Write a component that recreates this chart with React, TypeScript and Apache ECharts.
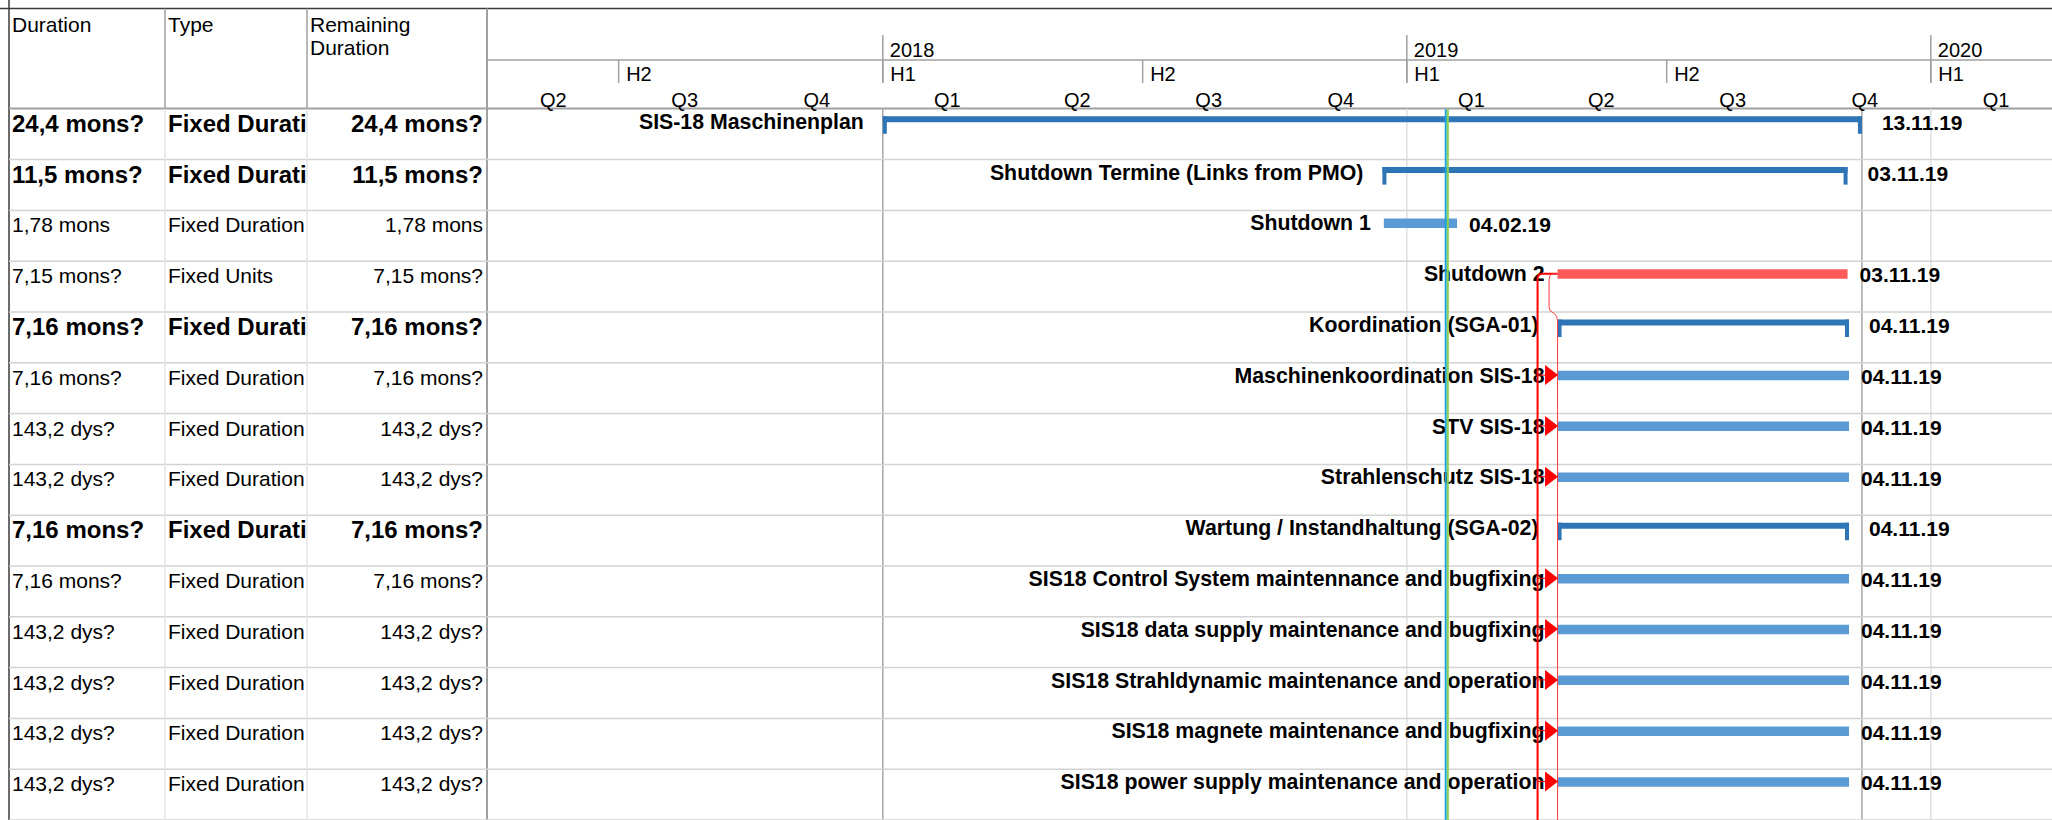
import React, { useEffect, useRef } from "react";
import * as echarts from "echarts";

// ---------- data ----------
const tableHeaders = ["Duration", "Type", "Remaining\nDuration"];

const rowDurations = [
  "24,4 mons?", "11,5 mons?", "1,78 mons", "7,15 mons?", "7,16 mons?", "7,16 mons?", "143,2 dys?",
  "143,2 dys?", "7,16 mons?", "7,16 mons?", "143,2 dys?", "143,2 dys?", "143,2 dys?", "143,2 dys?",
];
const rowTypes = [
  "Fixed Duration", "Fixed Duration", "Fixed Duration", "Fixed Units", "Fixed Duration", "Fixed Duration", "Fixed Duration",
  "Fixed Duration", "Fixed Duration", "Fixed Duration", "Fixed Duration", "Fixed Duration", "Fixed Duration", "Fixed Duration",
];
const rowRemaining = [
  "24,4 mons?", "11,5 mons?", "1,78 mons", "7,15 mons?", "7,16 mons?", "7,16 mons?", "143,2 dys?",
  "143,2 dys?", "7,16 mons?", "7,16 mons?", "143,2 dys?", "143,2 dys?", "143,2 dys?", "143,2 dys?",
];
const rowBold = [true, true, false, false, true, false, false, false, true, false, false, false, false, false];

const taskNames = [
  "SIS-18 Maschinenplan",
  "Shutdown Termine (Links from PMO)",
  "Shutdown 1",
  "Shutdown 2",
  "Koordination (SGA-01)",
  "Maschinenkoordination SIS-18",
  "STV SIS-18",
  "Strahlenschutz SIS-18",
  "Wartung / Instandhaltung (SGA-02)",
  "SIS18 Control System maintennance and bugfixing",
  "SIS18 data supply maintenance and bugfixing",
  "SIS18 Strahldynamic maintenance and operation",
  "SIS18 magnete maintenance and bugfixing",
  "SIS18 power supply maintenance and operation",
];
const taskKinds = [
  "summary", "summary", "task", "critical", "summary", "task", "task",
  "task", "summary", "task", "task", "task", "task", "task",
];
const taskStarts = [
  "2018-01-01", "2018-12-15", "2018-12-16", "2019-04-16", "2019-04-16", "2019-04-16", "2019-04-16",
  "2019-04-16", "2019-04-16", "2019-04-16", "2019-04-16", "2019-04-16", "2019-04-16", "2019-04-16",
];
const taskFinishes = [
  "2019-11-13", "2019-11-03", "2019-02-04", "2019-11-03", "2019-11-04", "2019-11-04", "2019-11-04",
  "2019-11-04", "2019-11-04", "2019-11-04", "2019-11-04", "2019-11-04", "2019-11-04", "2019-11-04",
];

const linkSourceRow = 3;
const linkTargetRows = [5, 6, 7, 9, 10, 11, 12, 13];

const yearStarts = ["2018-01-01", "2019-01-01", "2020-01-01"];
const yearLabels = ["2018", "2019", "2020"];
const halfStarts = ["2017-07-01", "2018-01-01", "2018-07-01", "2019-01-01", "2019-07-01", "2020-01-01"];
const halfLabels = ["H2", "H1", "H2", "H1", "H2", "H1"];
const quarterStarts = [
  "2017-04-01", "2017-07-01", "2017-10-01", "2018-01-01", "2018-04-01", "2018-07-01",
  "2018-10-01", "2019-01-01", "2019-04-01", "2019-07-01", "2019-10-01", "2020-01-01",
];
const quarterEnds = [
  "2017-07-01", "2017-10-01", "2018-01-01", "2018-04-01", "2018-07-01", "2018-10-01",
  "2019-01-01", "2019-04-01", "2019-07-01", "2019-10-01", "2020-01-01", "2020-04-01",
];
const quarterLabels = ["Q2", "Q3", "Q4", "Q1", "Q2", "Q3", "Q4", "Q1", "Q2", "Q3", "Q4", "Q1"];

const projectStart = "2018-01-01";
const projectFinish = "2019-11-13";
const yearGridLines = ["2019-01-01", "2020-01-01"];
const currentDate = "2019-01-29";

// ---------- helpers ----------
const DAY = 86400000;
const ts = (s: string) => {
  const [y, m, d] = s.split("-").map(Number);
  return Date.UTC(y, m - 1, d);
};
const fmtDate = (s: string) => {
  const [y, m, d] = s.split("-");
  return `${d}.${m}.${y.slice(2)}`;
};
const AXIS_MIN = ts("2017-04-01");
const AXIS_MAX = AXIS_MIN + 1089.4 * DAY;
const FONT = '"Liberation Sans", Arial, Helvetica, sans-serif';
const BOTTOM = 830;
const LABEL_SIZE = 21.3;

const txt = (x: number, y: number, text: string, opts: any = {}) => ({
  type: "text",
  x,
  y,
  silent: true,
  style: {
    text,
    fill: "#000",
    fontFamily: FONT,
    fontSize: opts.fontSize ?? 21,
    fontWeight: opts.bold ? "bold" : "normal",
    textAlign: opts.align ?? "left",
    textVerticalAlign: "middle",
    ...(opts.extra || {}),
  },
});
const ln = (x1: number, y1: number, x2: number, y2: number, stroke: string, lineWidth: number) => ({
  type: "line",
  silent: true,
  shape: { x1, y1, x2, y2 },
  style: { stroke, lineWidth },
});

export default function App() {
  const ref = useRef<HTMLDivElement>(null);

  useEffect(() => {
    const chart = echarts.init(ref.current!, null, { renderer: "svg" });

    const rowData = taskNames.map((_, i) => [AXIS_MIN, i]);
    const barData = taskNames.map((_, i) => [ts(taskStarts[i]), ts(taskFinishes[i]) + DAY, i]);
    const headerData: any[] = [];
    yearStarts.forEach((s, i) => headerData.push([ts(s), 0, i, 0]));
    halfStarts.forEach((s, i) => headerData.push([ts(s), 1, i, 0]));
    quarterStarts.forEach((s, i) => headerData.push([ts(s), 2, i, ts(quarterEnds[i])]));
    const vlineData: any[] = [
      [ts(projectStart), 0],
      [ts(projectFinish) + DAY, 0],
      ...yearGridLines.map((s) => [ts(s), 1]),
    ];

    const option: any = {
      animation: false,
      backgroundColor: "#fff",
      grid: { left: 488, top: 108.8, width: 1564, height: 14 * 51.2, containLabel: false },
      xAxis: { type: "time", min: AXIS_MIN, max: AXIS_MAX, show: false },
      yAxis: { type: "category", data: taskNames, inverse: true, show: false },
      graphic: [
        ln(0, 8.5, 2052, 8.5, "#3a3a3a", 1.5),
        ln(9, 0, 9, 820, "#3a3a3a", 1.5),
        ln(9, 108.5, 2052, 108.5, "#a0a0a0", 2),
        ln(487, 60, 2052, 60, "#a0a0a0", 1.5),
        ln(165, 8.5, 165, 108.5, "#a0a0a0", 1.5),
        ln(307, 8.5, 307, 108.5, "#a0a0a0", 1.5),
        ln(487, 8.5, 487, 820, "#a0a0a0", 2),
        txt(12, 24, tableHeaders[0]),
        txt(168, 24, tableHeaders[1]),
        {
          type: "text",
          x: 310,
          y: 12.5,
          silent: true,
          style: {
            text: tableHeaders[2],
            fill: "#000",
            fontFamily: FONT,
            fontSize: 21,
            lineHeight: 23.5,
            textAlign: "left",
            textVerticalAlign: "top",
          },
        },
      ],
      series: [
        {
          type: "custom",
          z: 1,
          clip: false,
          silent: true,
          data: vlineData,
          encode: { x: 0 },
          renderItem: (params: any, api: any) => {
            const x = api.coord([api.value(0), 0])[0];
            const kind = api.value(1);
            const top = params.coordSys.y;
            return ln(x, top, x, BOTTOM, kind === 0 ? "#a6a6a6" : "#e0e0e0", 1.5);
          },
        },
        {
          type: "custom",
          z: 2,
          clip: false,
          silent: true,
          data: rowData,
          encode: { x: 0, y: 1 },
          renderItem: (params: any, api: any) => {
            const i = params.dataIndex;
            const yc = api.coord([AXIS_MIN, i])[1];
            const bh = api.size([0, 1])[1];
            const top = yc - bh / 2;
            const bottom = yc + bh / 2;
            const bold = rowBold[i];
            const fs = bold ? 24 : 21;
            const ty = top + 14.5;
            return {
              type: "group",
              children: [
                ln(9, bottom, 2052, bottom, "#d3d3d3", 1.5),
                ln(165, top, 165, bottom, "#e3e3e3", 1.5),
                ln(307, top, 307, bottom, "#e3e3e3", 1.5),
                txt(12, ty, rowDurations[i], { fontSize: fs, bold }),
                txt(168, ty, rowTypes[i], {
                  fontSize: fs,
                  bold,
                  extra: { width: 147, overflow: "truncate", ellipsis: "" },
                }),
                txt(483, ty, rowRemaining[i], { fontSize: fs, bold, align: "right" }),
              ],
            };
          },
        },
        {
          type: "custom",
          z: 3,
          clip: false,
          silent: true,
          data: barData,
          encode: { x: [0, 1], y: 2 },
          renderItem: (params: any, api: any) => {
            const i = params.dataIndex;
            const p0 = api.coord([api.value(0), i]);
            const p1 = api.coord([api.value(1), i]);
            const bh = api.size([0, 1])[1];
            const top = p0[1] - bh / 2;
            const x0 = p0[0];
            const x1 = p1[0];
            const kind = taskKinds[i];
            const children: any[] = [];
            if (kind === "summary") {
              const c = "#2e75b6";
              children.push({ type: "rect", shape: { x: x0, y: top + 7.5, width: x1 - x0, height: 6 }, style: { fill: c } });
              children.push({ type: "rect", shape: { x: x0, y: top + 7.5, width: 4, height: 17.5 }, style: { fill: c } });
              children.push({ type: "rect", shape: { x: x1 - 4, y: top + 7.5, width: 4, height: 17.5 }, style: { fill: c } });
              children.push(txt(x0 - 19, top + 13, taskNames[i], { bold: true, align: "right", fontSize: LABEL_SIZE }));
              children.push(txt(x1 + 20, top + 13.7, fmtDate(taskFinishes[i]), { bold: true }));
            } else {
              const c = kind === "critical" ? "#ff5b5b" : "#5b9bd5";
              children.push({ type: "rect", shape: { x: x0, y: top + 8, width: x1 - x0, height: 9.5 }, style: { fill: c } });
              children.push(txt(x0 - 13, top + 13, taskNames[i], { bold: true, align: "right", fontSize: LABEL_SIZE }));
              children.push(txt(x1 + 12, top + 13.7, fmtDate(taskFinishes[i]), { bold: true }));
            }
            return { type: "group", children };
          },
        },
        {
          type: "custom",
          z: 4,
          clip: false,
          silent: true,
          data: [[ts(taskStarts[linkSourceRow]), linkSourceRow]],
          encode: { x: 0, y: 1 },
          renderItem: (params: any, api: any) => {
            const p = api.coord([api.value(0), linkSourceRow]);
            const bh = api.size([0, 1])[1];
            const sx = p[0];
            const yc = p[1] - bh / 2 + 12.5;
            const red = "#ff0000";
            const children: any[] = [
              {
                type: "polyline",
                shape: {
                  points: [
                    [sx, yc], [sx - 16, yc], [sx - 18.5, yc + 1], [sx - 19.7, yc + 3], [sx - 20, yc + 5], [sx - 20, BOTTOM],
                  ],
                },
                style: { stroke: red, lineWidth: 2, fill: null },
              },
              {
                type: "polyline",
                shape: {
                  points: [
                    [sx, yc], [sx - 5, yc], [sx - 7.5, yc + 2], [sx - 8.5, yc + 6], [sx - 8.5, yc + 33],
                    [sx - 7.5, yc + 37], [sx - 3, yc + 40], [sx - 0.8, yc + 43], [sx, yc + 47], [sx, BOTTOM],
                  ],
                },
                style: { stroke: "#ff3b3b", lineWidth: 1, fill: null },
              },
            ];
            linkTargetRows.forEach((r) => {
              const q = api.coord([api.value(0), r]);
              const ty = q[1] - bh / 2 + 12.3;
              children.push(ln(sx - 20, ty, sx - 12, ty, red, 1));
              children.push({
                type: "polygon",
                shape: { points: [[sx - 12.5, ty - 10], [sx + 0.5, ty], [sx - 12.5, ty + 10]] },
                style: { fill: red },
              });
            });
            return { type: "group", children };
          },
        },
        {
          type: "custom",
          z: 5,
          clip: false,
          silent: true,
          data: [[ts(currentDate), 0]],
          encode: { x: 0 },
          renderItem: (params: any, api: any) => {
            const x = api.coord([api.value(0), 0])[0];
            const top = params.coordSys.y + 0.5;
            return {
              type: "group",
              children: [
                ln(x - 1.3, top, x - 1.3, BOTTOM, "#1ca3de", 2),
                ln(x + 0.8, top, x + 0.8, BOTTOM, "#8dd14f", 2),
              ],
            };
          },
        },
        {
          type: "custom",
          z: 6,
          clip: false,
          silent: true,
          data: headerData,
          encode: { x: 0 },
          renderItem: (params: any, api: any) => {
            const x = api.coord([api.value(0), 0])[0];
            const level = api.value(1);
            const idx = api.value(2);
            if (level === 0) {
              return {
                type: "group",
                children: [ln(x, 35, x, 83, "#a0a0a0", 1.5), txt(x + 7, 50, yearLabels[idx], { fontSize: 20 })],
              };
            }
            if (level === 1) {
              return {
                type: "group",
                children: [ln(x, 60, x, 83, "#a0a0a0", 1.5), txt(x + 7.5, 74, halfLabels[idx], { fontSize: 20 })],
              };
            }
            const xe = api.coord([api.value(3), 0])[0];
            return txt((x + xe) / 2, 99.5, quarterLabels[idx], { fontSize: 20, align: "center" });
          },
        },
      ],
    };

    chart.setOption(option);
    return () => chart.dispose();
  }, []);

  return (
    <div
      ref={ref}
      style={{ position: "fixed", left: 0, top: 0, width: 2052, height: 820, background: "#fff" }}
    />
  );
}
